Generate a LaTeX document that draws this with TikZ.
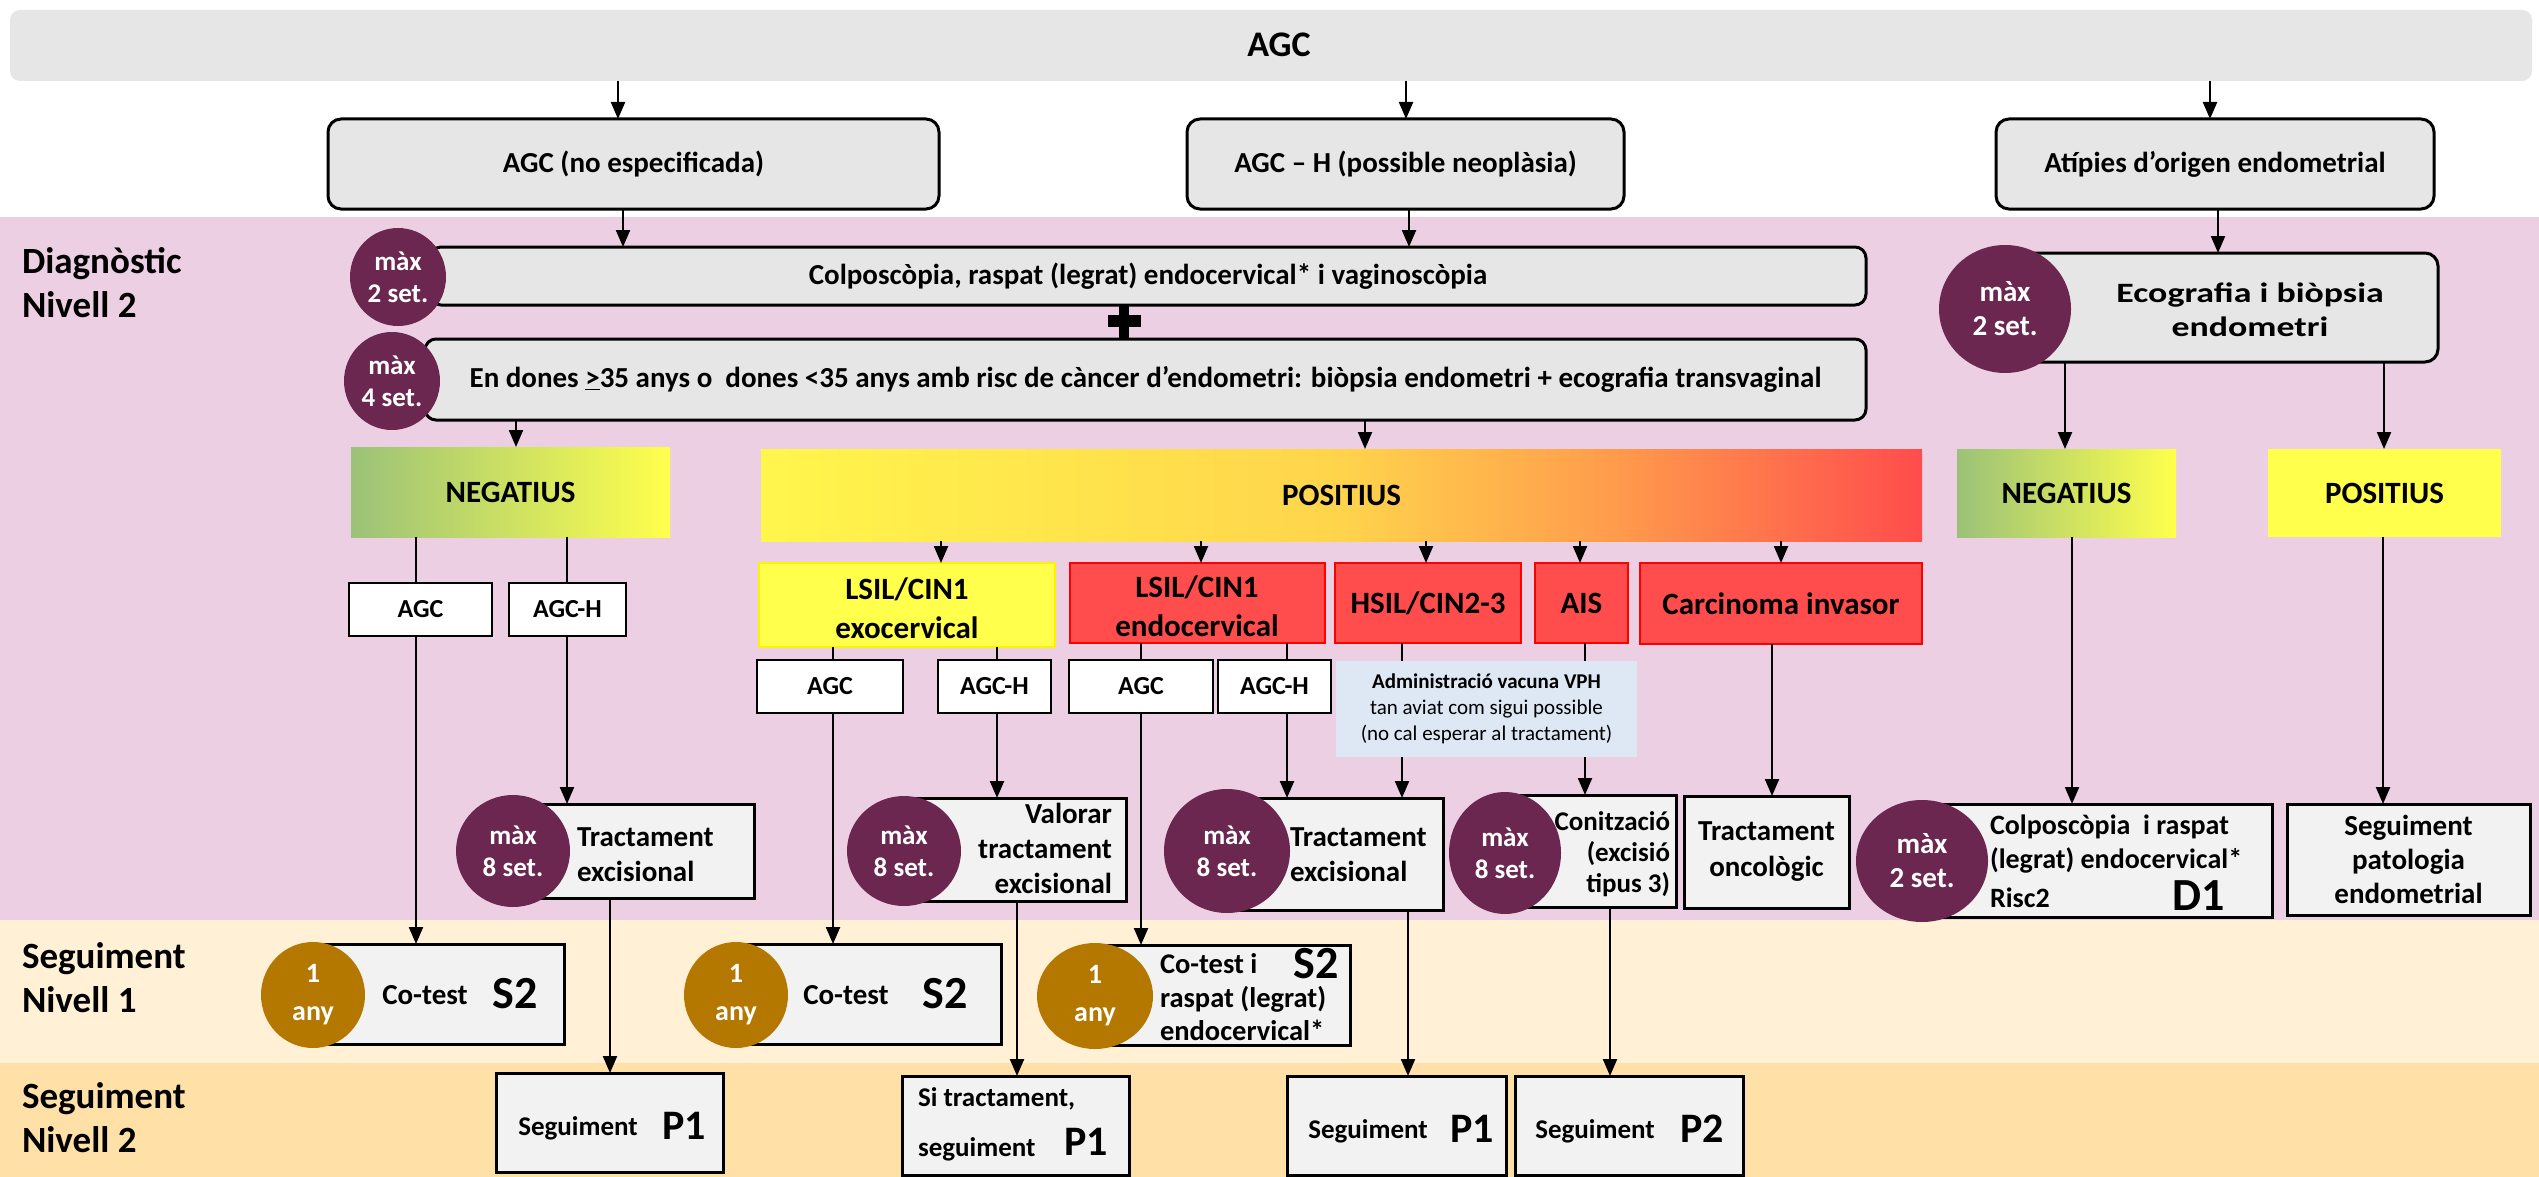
\documentclass[tikz,border=0pt]{standalone}
\usepackage{fontspec}
\setmainfont{Carlito}
\usetikzlibrary{arrows.meta,shapes.geometric}

\definecolor{boxgray}{RGB}{230,230,230}
\definecolor{lightbox}{RGB}{242,242,242}
\definecolor{pinkbg}{RGB}{237,207,227}
\definecolor{creamA}{RGB}{255,240,214}
\definecolor{creamB}{RGB}{255,224,166}
\definecolor{plum}{RGB}{107,39,80}
\definecolor{goldc}{RGB}{180,119,0}
\definecolor{yellowc}{RGB}{255,255,76}
\definecolor{redc}{RGB}{255,76,76}
\definecolor{vacblue}{RGB}{222,232,244}
\definecolor{ngreen}{RGB}{155,194,120}
\definecolor{nyellow}{RGB}{255,255,76}
\definecolor{pyel}{RGB}{255,246,76}
\definecolor{pmid}{RGB}{255,212,76}
\definecolor{porg}{RGB}{255,154,76}
\definecolor{pred}{RGB}{255,76,76}

\pgfdeclarehorizontalshading{negshade}{100bp}{color(0bp)=(ngreen); color(25bp)=(ngreen); color(75bp)=(nyellow); color(100bp)=(nyellow)}
\pgfdeclarehorizontalshading{posshade}{100bp}{color(0bp)=(pyel); color(25bp)=(pyel); color(50bp)=(pmid); color(62bp)=(porg); color(75bp)=(pred); color(100bp)=(pred)}

\newcommand\fsz[2]{\fontsize{#1}{#2}\selectfont}
% box node spanning the corners (x1,y1)-(x2,y2): \bx{style}{name}{x1}{y1}{x2}{y2}{text}
\newcommand\bx[7]{\node[#1, minimum width={(#5-#3)*1pt}, minimum height={(#6-#4)*1pt}] (#2) at ({(#3+#5)/2},{(#4+#6)/2}) {#7};}

\begin{document}
\begin{tikzpicture}[x=1pt,y=-1pt,
  base/.style={inner sep=0pt, outer sep=0pt, align=center, font=\bfseries\fsz{29}{35}},
  rbox/.style={base, draw=black, line width=3pt, rounded corners=13pt, fill=boxgray},
  sbox/.style={base, draw=black, line width=3pt, fill=lightbox},
  wbox/.style={base, draw=black, line width=2.2pt, fill=white, font=\bfseries\fsz{26}{30}},
  lvl/.style={base, font=\bfseries\fsz{31}{39}},
  redbox/.style={lvl, draw=red, line width=1.5pt, fill=redc},
  plumc/.style={ellipse, inner sep=0pt, fill=plum, text=white, align=center, font=\bfseries\fsz{27}{32}},
  goldcirc/.style={ellipse, inner sep=0pt, fill=goldc, text=white, align=center, font=\bfseries\fsz{28}{38}},
  codetxt/.style={base, font=\bfseries\fsz{46}{50}},
  arr/.style={line width=2.2pt, -{Triangle[length=17pt,width=14pt]}},
  ln/.style={line width=2.2pt},
  side/.style={base, align=left, anchor=west, font=\bfseries\fsz{37}{44}},
]
\useasboundingbox (0,0) rectangle (2539,1177);

% background bands
\fill[white] (0,0) rectangle (2539,217);
\fill[pinkbg] (0,217) rectangle (2539,920);
\fill[creamA] (0,920) rectangle (2539,1063);
\fill[creamB] (0,1063) rectangle (2539,1177);

% connector columns
\foreach \cx in {618,1406,2210,623,1409,1124,516,1365,2218,2065,2384,416,567,941,1201,1426,1580,1781,833,997,1141,1287,1402,1585,1772,2072,2383,610,1017,1408,1610}
  \coordinate (c\cx) at (\cx,0);

% row labels
\node[side] (lab1) at (22,283) {Diagnòstic\\Nivell 2};
\node[side] (lab2) at (22,978) {Seguiment\\Nivell 1};
\node[side] (lab3) at (22,1118) {Seguiment\\Nivell 2};

% top level
\bx{base, fill=boxgray, rounded corners=10pt}{agc}{10}{10}{2532}{81}{}
\node[base, font=\bfseries\fsz{36}{40}] (agct) at (1279,45) {AGC};
\bx{rbox}{agcne}{328}{119}{939}{209}{AGC (no especificada)}
\bx{rbox}{agch}{1187}{119}{1624}{209}{AGC – H (possible neoplàsia)}
\bx{rbox}{atip}{1996}{119}{2434}{209}{Atípies d’origen endometrial}

% diagnosis level 2
\bx{rbox, rounded corners=11pt}{colpo}{430}{247}{1866}{305}{Colposcòpia, raspat (legrat) endocervical* i vaginoscòpia}
\bx{rbox, rounded corners=11pt}{biop}{425}{339}{1866}{420}{En dones \underline{>}35 anys o\ \ dones <35 anys amb risc de càncer d’endometri: biòpsia endometri + ecografia transvaginal}
\bx{rbox}{ecog}{2000}{253}{2438}{362}{}
\node[base, font=\bfseries\fsz{28}{34}\addfontfeatures{FakeStretch=1.28}] (ecogt) at (2250,310) {Ecografia i biòpsia\\endometri};

\node[plumc, minimum width=96pt, minimum height=98pt] (m1) at (398,277) {màx\\2 set.};
\node[plumc, minimum width=96pt, minimum height=98pt] (m2) at (392,381) {màx\\4 set.};
\node[plumc, minimum width=132pt, minimum height=128pt, font=\bfseries\fsz{29}{34}] (m3) at (2005,309) {màx\\2 set.};

% results
\bx{lvl, shading=negshade}{neg1}{351}{447}{670}{537}{NEGATIUS}
\bx{lvl, shading=posshade}{pos1}{761}{449}{1922}{541}{POSITIUS}
\bx{lvl, shading=negshade}{neg2}{1957}{449}{2176}{537}{NEGATIUS}
\bx{lvl, fill=yellowc}{pos2}{2268}{449}{2501}{537}{POSITIUS}

\bx{wbox}{a1}{349}{583}{492}{636}{AGC}
\bx{wbox}{a2}{509}{583}{626}{636}{AGC-H}

\bx{lvl, fill=yellowc, draw=yellow, line width=2pt}{lsil1}{759}{563}{1055}{647}{}
\node[lvl] (lsil1t) at (907,608) {LSIL/CIN1\\exocervical};
\bx{redbox}{lsil2}{1070}{563}{1325}{643}{}
\node[lvl] (lsil2t) at (1197,606) {LSIL/CIN1\\endocervical};
\bx{redbox}{hsil}{1335}{563}{1521}{643}{HSIL/CIN2-3}
\bx{redbox}{ais}{1535}{563}{1628}{643}{AIS}
\bx{redbox}{carc}{1640}{563}{1922}{644}{Carcinoma invasor}

\bx{wbox}{b1}{757}{660}{903}{713}{AGC}
\bx{wbox}{b2}{938}{660}{1051}{713}{AGC-H}
\bx{wbox}{b3}{1069}{660}{1213}{713}{AGC}
\bx{wbox}{b4}{1218}{660}{1331}{713}{AGC-H}

\bx{base, fill=vacblue, font=\bfseries\fsz{21}{26}}{vac}{1336}{661}{1637}{757}{Administració vacuna VPH\\{\mdseries tan aviat com sigui possible}\\{\mdseries (no cal esperar al tractament)}}

% treatments
\bx{sbox}{tract1}{513}{804}{754}{898}{}
\node[base, anchor=west, align=left, font=\bfseries\fsz{29}{35}] (tract1t) at (577,855) {Tractament\\excisional};
\bx{sbox}{valor}{904}{798}{1126}{901}{}
\node[base, anchor=east, align=right, font=\bfseries\fsz{29}{35}] (valort) at (1112,848) {Valorar\\tractament\\excisional};
\bx{sbox}{tract2}{1227}{798}{1443}{910}{}
\node[base, anchor=west, align=left, font=\bfseries\fsz{29}{35}] (tract2t) at (1290,855) {Tractament\\excisional};
\bx{sbox}{coniz}{1505}{795}{1676}{907}{}
\node[base, anchor=east, align=right, font=\bfseries\fsz{27}{31}] (conizt) at (1670,854) {Conització\\(excisió\\tipus 3)};
\bx{sbox, font=\bfseries\fsz{29}{36}}{onco}{1684}{796}{1849}{908}{Tractament\\oncològic}
\bx{sbox}{colp2}{1922}{804}{2272}{917}{}
\node[base, anchor=west, align=left, font=\bfseries\fsz{28}{34.5}] (colp2t) at (1990,844) {Colposcòpia\ \ i raspat\\(legrat) endocervical*};
\node[base, anchor=west, font=\bfseries\fsz{28}{34.5}] (colp2r) at (1990,898) {Risc2};
\node[codetxt] (d1) at (2199,896) {D1};
\bx{sbox, font=\bfseries\fsz{29}{34}}{segpat}{2287}{804}{2530}{915}{Seguiment\\patologia\\endometrial}

\node[plumc, minimum width=114pt, minimum height=112pt] (m4) at (513,851) {màx\\8 set.};
\node[plumc, minimum width=114pt, minimum height=110pt] (m5) at (904,851) {màx\\8 set.};
\node[plumc, minimum width=126pt, minimum height=124pt] (m6) at (1227,851) {màx\\8 set.};
\node[plumc, minimum width=112pt, minimum height=122pt] (m7) at (1505,853) {màx\\8 set.};
\node[plumc, minimum width=132pt, minimum height=122pt, font=\bfseries\fsz{29}{34}] (m8) at (1922,861) {màx\\2 set.};

% follow-up level 1
\bx{sbox}{cot1}{313}{944}{564}{1044}{}
\node[base] (cot1t) at (425,995) {Co-test};
\node[codetxt] (cot1s) at (515,994) {S2};
\bx{sbox}{cot2}{736}{944}{1001}{1044}{}
\node[base] (cot2t) at (846,995) {Co-test};
\node[codetxt] (cot2s) at (945,994) {S2};
\bx{sbox}{cot3}{1095}{945}{1350}{1045}{}
\node[base, anchor=west, font=\bfseries\fsz{28.5}{33}] (cot3ta) at (1160,964) {Co-test i};
\node[base, anchor=west, align=left, font=\bfseries\fsz{28.5}{33}] (cot3tb) at (1160,1014) {raspat (legrat)\\endocervical*};
\node[codetxt] (cot3s) at (1316,964) {S2};

\node[goldcirc, minimum width=104pt, minimum height=106pt] (g1) at (313,995) {1\\any};
\node[goldcirc, minimum width=104pt, minimum height=106pt] (g2) at (736,995) {1\\any};
\node[goldcirc, minimum width=116pt, minimum height=106pt] (g3) at (1095,996) {1\\any};

% follow-up level 2
\bx{sbox}{p1a}{496}{1073}{723}{1172}{}
\node[base, font=\bfseries\fsz{27}{32}] (p1at) at (578,1128) {Seguiment};
\node[codetxt, font=\bfseries\fsz{42}{46}] (p1as) at (684,1126) {P1};
\bx{sbox}{sitr}{902}{1076}{1129}{1175}{}
\node[base, anchor=west, font=\bfseries\fsz{27}{32}] (sitrt1) at (918,1099) {Si tractament,};
\node[base, anchor=west, font=\bfseries\fsz{27}{32}] (sitrt2) at (918,1149) {seguiment};
\node[codetxt, font=\bfseries\fsz{42}{46}] (sitrs) at (1086,1142) {P1};
\bx{sbox}{p1b}{1287}{1076}{1506}{1175}{}
\node[base, font=\bfseries\fsz{27}{32}] (p1bt) at (1368,1131) {Seguiment};
\node[codetxt, font=\bfseries\fsz{42}{46}] (p1bs) at (1472,1129) {P1};
\bx{sbox}{p2}{1515}{1076}{1743}{1175}{}
\node[base, font=\bfseries\fsz{27}{32}] (p2t) at (1595,1131) {Seguiment};
\node[codetxt, font=\bfseries\fsz{42}{46}] (p2s) at (1702,1129) {P2};

% connectors
\draw[arr] (agc.south -| c618) -- (agcne.north -| c618);
\draw[arr] (agc.south -| c1406) -- (agch.north -| c1406);
\draw[arr] (agc.south -| c2210) -- (atip.north -| c2210);
\draw[arr] (agcne.south -| c623) -- (colpo.north -| c623);
\draw[arr] (agch.south -| c1409) -- (colpo.north -| c1409);
\draw[line width=10pt] (colpo.south -| c1124) -- (biop.north -| c1124);
\node[fill=black, inner sep=0pt, minimum width=33pt, minimum height=12pt] (plus) at (1124,321) {};
\draw[arr] (biop.south -| c516) -- (neg1.north -| c516);
\draw[arr] (biop.south -| c1365) -- (pos1.north -| c1365);
\draw[arr] (atip.south -| c2218) -- (ecog.north -| c2218);
\draw[arr] (ecog.south -| c2065) -- (neg2.north -| c2065);
\draw[arr] (ecog.south -| c2384) -- (pos2.north -| c2384);

\draw[ln] (neg1.south -| c416) -- (a1.north -| c416);
\draw[ln] (neg1.south -| c567) -- (a2.north -| c567);
\draw[arr] (a1.south -| c416) -- (cot1.north -| c416);
\draw[arr] (a2.south -| c567) -- (tract1.north -| c567);

\draw[arr] (pos1.south -| c941) -- (lsil1.north -| c941);
\draw[arr] (pos1.south -| c1201) -- (lsil2.north -| c1201);
\draw[arr] (pos1.south -| c1426) -- (hsil.north -| c1426);
\draw[arr] (pos1.south -| c1580) -- (ais.north -| c1580);
\draw[arr] (pos1.south -| c1781) -- (carc.north -| c1781);

\draw[ln] (lsil1.south -| c833) -- (b1.north -| c833);
\draw[ln] (lsil1.south -| c997) -- (b2.north -| c997);
\draw[ln] (lsil2.south -| c1141) -- (b3.north -| c1141);
\draw[ln] (lsil2.south -| c1287) -- (b4.north -| c1287);
\draw[ln] (hsil.south -| c1402) -- (vac.north -| c1402);
\draw[ln] (ais.south -| c1585) -- (vac.north -| c1585);

\draw[arr] (b1.south -| c833) -- (cot2.north -| c833);
\draw[arr] (b2.south -| c997) -- (valor.north -| c997);
\draw[arr] (b3.south -| c1141) -- (cot3.north -| c1141);
\draw[arr] (b4.south -| c1287) -- (tract2.north -| c1287);
\draw[arr] (vac.south -| c1402) -- (tract2.north -| c1402);
\draw[arr] (vac.south -| c1585) -- (coniz.north -| c1585);
\draw[arr] (carc.south -| c1772) -- (onco.north -| c1772);
\draw[arr] (neg2.south -| c2072) -- (colp2.north -| c2072);
\draw[arr] (pos2.south -| c2383) -- (segpat.north -| c2383);

\draw[arr] (tract1.south -| c610) -- (p1a.north -| c610);
\draw[arr] (valor.south -| c1017) -- (sitr.north -| c1017);
\draw[arr] (tract2.south -| c1408) -- (p1b.north -| c1408);
\draw[arr] (coniz.south -| c1610) -- (p2.north -| c1610);
\end{tikzpicture}
\end{document}
